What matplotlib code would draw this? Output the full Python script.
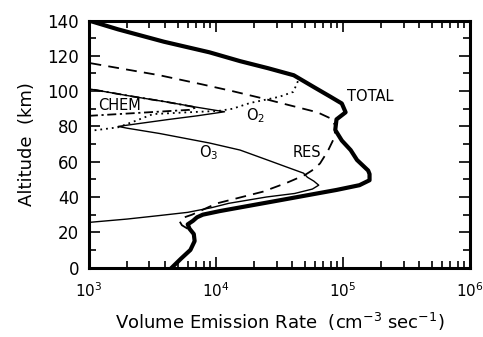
"""Volume emission rate profiles vs altitude (log x axis)."""

import matplotlib
matplotlib.use("Agg")
import matplotlib.pyplot as plt
from matplotlib.ticker import LogLocator, MultipleLocator, FixedLocator, NullFormatter


# values: altitude (km) and emission rate (cm^-3 sec^-1)
total_alt = [0, 5, 10, 15, 19, 22, 24.5, 26.5, 28.5, 30, 32, 35, 38, 41, 44, 46.7,
             49.5, 53, 55, 61, 66.6, 72, 78, 84, 88, 93, 97, 102, 109, 113, 117,
             122, 128, 135, 140]
total_val = [4500, 5300, 6300, 6800, 6700, 6200, 6000, 6600, 7100, 7900, 10700,
             18200, 31000, 52500, 89000, 135000, 162000, 162000, 158000, 129000,
             115000, 98000, 87000, 89000, 105000, 98000, 79000, 60000, 41000,
             25700, 15500, 8900, 3900, 1700, 1000]

res_alt = [22, 24, 26, 28, 30, 33, 36.4, 43, 48, 52.4, 55, 59, 66, 74, 80, 84,
           88, 92, 96, 100, 104, 109, 116]
res_val = [6000, 5400, 5200, 5400, 6500, 8000, 10200, 23400, 36000, 50000, 57000,
           66000, 76000, 86000, 87000, 83000, 63000, 38000, 23000, 13500, 7600,
           3600, 1000]

o3_alt = [25.6, 27.5, 29.5, 31.3, 34, 36.4, 40, 42, 44.5, 46.7, 49, 51.2, 53.5,
          57, 60.3, 66.6, 70.6, 76, 79, 80, 82, 84, 86, 88.3, 91, 94, 97, 101.3]
o3_val = [1000, 2000, 3600, 6000, 9300, 12600, 25000, 41700, 57500, 64500, 59000,
          52500, 49000, 36000, 27000, 15500, 8900, 3600, 2000, 1700, 2700, 4300,
          7100, 11700, 6900, 4000, 2200, 1000]

chem_alt = [86, 87.7, 89.4, 90.8, 94, 97, 101.3]
chem_val = [1000, 2500, 6200, 7000, 4000, 2200, 1000]

o2_alt = [77.4, 79.5, 83, 87, 88, 88.8, 90, 93.3, 96.8, 99.6, 106.4, 109.3]
o2_val = [1000, 1700, 2300, 3200, 6000, 10500, 13500, 18600, 31600, 40700,
          44700, 41700]

curve_labels = ["TOTAL", "RES", "O$_2$", "O$_3$", "CHEM"]
label_pos = [(1.63e5, 96.8), (5.2e4, 65), (2.05e4, 86), (8.8e3, 65), (1.75e3, 92)]


def main() -> None:
    plt.rcParams["font.family"] = ["DejaVu Sans"]
    plt.rcParams["mathtext.fontset"] = "dejavusans"

    fig = plt.figure(figsize=(4.83, 3.37), dpi=100)
    ax = fig.add_axes([0.184, 0.206, 0.789, 0.733])

    ax.plot(total_val, total_alt, color="black", lw=3.0, solid_joinstyle="round")
    ax.plot(res_val, res_alt, color="black", lw=1.3, linestyle=(0, (6, 4)))
    ax.plot(o3_val, o3_alt, color="black", lw=1.0)
    ax.plot(chem_val, chem_alt, color="black", lw=1.3, linestyle=(0, (5, 2, 1.2, 2)))
    ax.plot(o2_val, o2_alt, color="black", lw=1.3, linestyle=(0, (1, 2.2)))

    for text, (x, y) in zip(curve_labels, label_pos):
        ax.text(x, y, text, fontsize=10.5, ha="center", va="center")

    ax.set_xscale("log")
    ax.set_xlim(1e3, 1e6)
    ax.set_ylim(0, 140)

    ax.xaxis.set_major_locator(FixedLocator([1e3, 1e4, 1e5, 1e6]))
    ax.xaxis.set_minor_locator(LogLocator(base=10, subs=range(2, 10)))
    ax.xaxis.set_minor_formatter(NullFormatter())
    ax.set_xticklabels(["$10^3$", "$10^4$", "$10^5$", "$10^6$"])
    ax.yaxis.set_major_locator(MultipleLocator(20))
    ax.yaxis.set_minor_locator(MultipleLocator(10))

    ax.tick_params(which="both", direction="in", top=True, right=True, width=1.2)
    ax.tick_params(axis="y", pad=7, labelsize=12)
    ax.tick_params(axis="x", pad=10, labelsize=11)
    ax.tick_params(which="major", length=8)
    ax.tick_params(which="minor", length=5)
    for spine in ax.spines.values():
        spine.set_linewidth(2.2)

    ax.set_xlabel("Volume Emission Rate  (cm$^{-3}$ sec$^{-1}$)", fontsize=13, labelpad=8)
    ax.set_ylabel("Altitude  (km)", fontsize=13, labelpad=8)

    fig.savefig("out.png", dpi=100)
    plt.close(fig)


if __name__ == "__main__":
    main()
